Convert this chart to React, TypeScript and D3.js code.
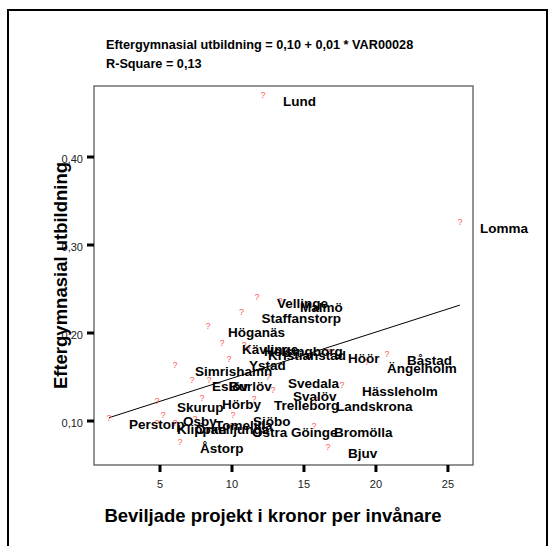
import React from "react";
import * as d3 from "d3";

const names = [
  "Lund", "Lomma", "Vellinge", "Malmö", "Staffanstorp", "Höganäs", "Kävlinge",
  "Helsingborg", "Kristianstad", "Höör", "Båstad", "Ängelholm", "Simrishamn",
  "Ystad", "Eslöv", "Burlöv", "Svedala", "Svalöv", "Hässleholm", "Skurup",
  "Hörby", "Trelleborg", "Landskrona", "Perstorp", "Osby", "Klippan",
  "Tomelilla", "Örkelljunga", "Sjöbo", "Östra Göinge", "Bromölla", "Åstorp", "Bjuv",
];
const xValues = [
  12.15, 25.83, 11.74, 13.33, 10.66, 8.33, 9.31,
  10.83, 11.11, 16.67, 20.76, 19.38, 6.04,
  9.79, 7.22, 8.4, 12.5, 12.85, 17.64, 4.79,
  7.92, 11.53, 15.83, 1.46, 5.21, 4.79,
  7.43, 6.04, 10.07, 10.0, 15.69, 6.39, 16.67,
];
const yValues = [
  0.4705, 0.3261, 0.2409, 0.2364, 0.2239, 0.208, 0.1886,
  0.1864, 0.1818, 0.1784, 0.1761, 0.167, 0.1636,
  0.1705, 0.1466, 0.1466, 0.15, 0.1352, 0.1409, 0.1227,
  0.1261, 0.125, 0.1239, 0.1034, 0.1068, 0.0977,
  0.1023, 0.0977, 0.1068, 0.0943, 0.0943, 0.0761, 0.0705,
];
const xTicks = [5, 10, 15, 20, 25];
const yTicks = [0.1, 0.2, 0.3, 0.4];
const regIntercept = 0.0961;
const regSlope = 0.00525;
const headerLines = [
  "Eftergymnasial utbildning = 0,10 + 0,01 * VAR00028",
  "R-Square = 0,13",
];
const xTitle = "Beviljade projekt i kronor per invånare";
const yTitle = "Eftergymnasial utbildning";

const W = 556;
const H = 546;
const plot = { left: 94, right: 473, top: 86, bottom: 465 };
const FONT = "'Liberation Sans', Arial, sans-serif";

export default function App() {
  const x = d3.scaleLinear().domain([0.417, 26.74]).range([plot.left, plot.right]);
  const y = d3.scaleLinear().domain([0.05, 0.4807]).range([plot.bottom, plot.top]);
  const fmt = (v: number) => d3.format(".2f")(v).replace(".", ",");
  const xMin = d3.min(xValues) as number;
  const xMax = d3.max(xValues) as number;
  const reg = d3.line<number>()
    .x((v) => x(v))
    .y((v) => y(regIntercept + regSlope * v));

  return (
    <svg width={W} height={H} style={{ position: "fixed", left: 0, top: 0, background: "#fff" }}
      fontFamily={FONT}>
      <rect x={0} y={0} width={W} height={H} fill="#fff" />
      <rect x={8} y={10} width={539} height={560} fill="none" stroke="#000" strokeWidth={2} />
      {headerLines.map((t, i) => (
        <text key={t} x={106} y={45 + i * 19} fontSize={12.7} fontWeight="bold"
          dominantBaseline="central" fill="#000">{t}</text>
      ))}
      <rect x={plot.left} y={plot.top} width={plot.right - plot.left} height={plot.bottom - plot.top}
        fill="none" stroke="#666" strokeWidth={1.4} />
      {yTicks.map((t) => (
        <g key={t}>
          <line x1={plot.left - 7} x2={plot.left} y1={y(t)} y2={y(t)} stroke="#000" strokeWidth={3} />
          <text x={83} y={y(t) + 1.5} textAnchor="end" dominantBaseline="central" fontSize={11}
            fill="#222">{fmt(t)}</text>
        </g>
      ))}
      {xTicks.map((t) => (
        <g key={t}>
          <line x1={x(t)} x2={x(t)} y1={plot.bottom} y2={plot.bottom + 7} stroke="#000" strokeWidth={3} />
          <text x={x(t)} y={484} textAnchor="middle" dominantBaseline="central" fontSize={11}
            fill="#222">{t}</text>
        </g>
      ))}
      <path d={reg([xMin, xMax]) || ""} fill="none" stroke="#000" strokeWidth={1} />
      {names.map((n, i) => (
        <text key={"p" + n} x={x(xValues[i])} y={y(yValues[i])} textAnchor="middle"
          dominantBaseline="central" fontSize={9} fill="#ff5a5a">?</text>
      ))}
      {names.map((n, i) => (
        <text key={"l" + n} x={x(xValues[i]) + 20} y={y(yValues[i]) + 6.5}
          dominantBaseline="central" fontSize={13.5} fontWeight="bold" fill="#000">{n}</text>
      ))}
      <text x={273} y={515} textAnchor="middle" dominantBaseline="central" fontSize={18.5}
        fontWeight="bold" fill="#000">{xTitle}</text>
      <text transform={`translate(60,${(plot.top + plot.bottom) / 2}) rotate(-90)`} textAnchor="middle"
        dominantBaseline="central" fontSize={18.5} fontWeight="bold" fill="#000">{yTitle}</text>
    </svg>
  );
}
